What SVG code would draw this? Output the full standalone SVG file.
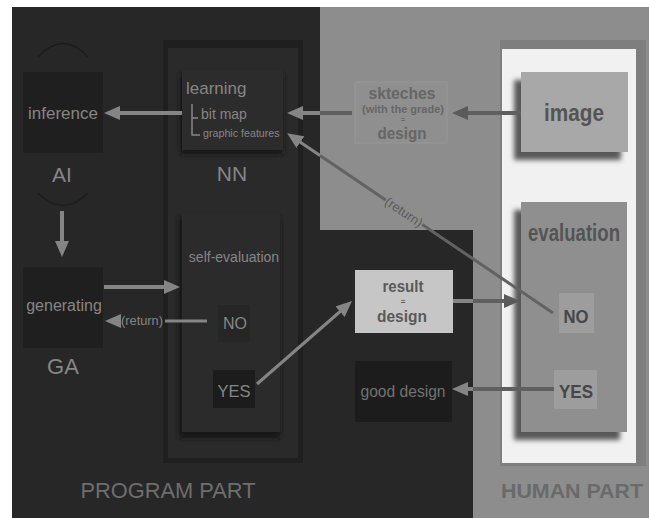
<svg xmlns="http://www.w3.org/2000/svg" width="649" height="518" viewBox="0 0 649 518">
  <defs>
    <style>
      text { font-family: "Liberation Sans", Arial, sans-serif; }
      .lt { fill: #868686; }
      .dk { fill: #545454; font-weight: bold; }
      .mid { text-anchor: middle; }
      .ln-l { stroke: #858585; stroke-width: 4; fill: none; }
      .ln-d { stroke: #5f5f5f; stroke-width: 4; fill: none; }
      .ret-l { stroke: #858585; stroke-width: 3; fill: none; }
      .ret-d { stroke: #626262; stroke-width: 3; fill: none; }
      .shd { fill: #141414; filter: url(#blur); }
      .shg { fill: #585858; filter: url(#blur); }
    </style>
    <filter id="blur" x="-30%" y="-30%" width="160%" height="160%">
      <feGaussianBlur stdDeviation="2.5"/>
    </filter>
    <marker id="ah-l" markerUnits="userSpaceOnUse" viewBox="0 0 16 14" markerWidth="16" markerHeight="14" refX="4" refY="7" orient="auto">
      <path d="M0,0 L16,7 L0,14 Z" fill="#858585"/>
    </marker>
    <marker id="ah-d" markerUnits="userSpaceOnUse" viewBox="0 0 16 14" markerWidth="16" markerHeight="14" refX="4" refY="7" orient="auto">
      <path d="M0,0 L16,7 L0,14 Z" fill="#5a5a5a"/>
    </marker>
  </defs>

  <!-- sheet and the two working areas -->
  <rect x="0" y="0" width="649" height="518" fill="#ffffff"/>
  <rect x="12" y="7" width="637" height="511" fill="#272727"/>
  <path d="M320,7 H649 V518 H473 V230 H320 Z" fill="#8d8d8d"/>

  <!-- human side: framed white panel -->
  <g id="human-panel">
    <rect x="500" y="40" width="146" height="426" fill="#7e7e7e"/>
    <rect x="502" y="49" width="134" height="414" fill="#f1f1f1"/>
  </g>

  <!-- program side: NN column -->
  <g id="nn-panel">
    <rect x="163" y="40" width="140" height="423" fill="#1f1f1f"/>
    <rect x="168" y="48" width="130" height="410" fill="#2a2a2a"/>
    <text class="lt mid" x="232" y="181" font-size="21">NN</text>
  </g>

  <g id="ai">
    <path d="M38,57 Q63,30 88,57" stroke="#1c1c1c" stroke-width="1.5" fill="none"/>
    <path d="M38,193 Q63,218 88,193" stroke="#1c1c1c" stroke-width="1.5" fill="none"/>
    <rect x="23" y="72" width="80" height="81" fill="#1f1f1f"/>
    <text class="lt mid" x="63" y="119" font-size="17" fill="#8c8c8c">inference</text>
    <text class="lt mid" x="62" y="182" font-size="21">AI</text>
  </g>

  <g id="ga">
    <rect x="23" y="267" width="80" height="81" fill="#1f1f1f"/>
    <text class="lt mid" x="64" y="311" font-size="16">generating</text>
    <text class="lt mid" x="63" y="374" font-size="22">GA</text>
  </g>

  <g id="learning">
    <rect class="shd" x="180" y="74" width="103" height="80"/>
    <rect x="182" y="70" width="101" height="80" fill="#2c2c2c"/>
    <text class="lt" x="186" y="94" font-size="17">learning</text>
    <path d="M192,104 V135 H200 M192,118 H198" stroke="#868686" stroke-width="1.5" fill="none"/>
    <text class="lt" x="201" y="119" font-size="14">bit map</text>
    <text class="lt" x="203" y="137" font-size="10.7">graphic features</text>
  </g>

  <g id="self-evaluation">
    <rect class="shd" x="179" y="217" width="101" height="221"/>
    <rect x="182" y="213" width="98" height="219" fill="#2b2b2b"/>
    <text class="lt mid" x="234" y="262" font-size="14">self-evaluation</text>
  </g>

  <g id="self-no">
    <rect x="218" y="305" width="32" height="37" fill="#262626"/>
    <text class="lt mid" x="235" y="329" font-size="16">NO</text>
  </g>

  <g id="self-yes">
    <rect x="213" y="370" width="42" height="38" fill="#1c1c1c"/>
    <text class="lt mid" x="234" y="397" font-size="16.5">YES</text>
  </g>

  <g id="result">
    <rect x="355" y="270" width="98" height="63" fill="#c6c6c6"/>
    <text class="mid" x="403" y="292" font-size="16" font-weight="bold" fill="#5a5a5a" textLength="41" lengthAdjust="spacingAndGlyphs">result</text>
    <text class="mid" x="403" y="304" font-size="8" font-weight="bold" fill="#5a5a5a">=</text>
    <text class="mid" x="402" y="322" font-size="16.5" font-weight="bold" fill="#5a5a5a" textLength="50" lengthAdjust="spacingAndGlyphs">design</text>
  </g>

  <g id="good-design">
    <rect x="355" y="361" width="97" height="61" fill="#1c1c1c"/>
    <text class="mid" x="403" y="397" font-size="16" fill="#727272" textLength="85" lengthAdjust="spacingAndGlyphs">good design</text>
  </g>

  <g id="sketches">
    <rect x="355" y="82" width="92" height="61" fill="#8f8f8f" stroke="#979797" stroke-width="1"/>
    <text class="mid" x="402" y="98.5" font-size="16" font-weight="bold" fill="#666666" textLength="67" lengthAdjust="spacingAndGlyphs">skteches</text>
    <text class="mid" x="403" y="112.5" font-size="11" font-weight="bold" fill="#666666" textLength="82" lengthAdjust="spacingAndGlyphs">(with the grade)</text>
    <text class="mid" x="403" y="122" font-size="7" font-weight="bold" fill="#666666">=</text>
    <text class="mid" x="402" y="139" font-size="16.5" font-weight="bold" fill="#666666" textLength="49" lengthAdjust="spacingAndGlyphs">design</text>
  </g>

  <g id="image">
    <rect class="shg" x="514" y="80" width="107" height="80"/>
    <rect x="521" y="72" width="107" height="80" fill="#a8a8a8"/>
    <text class="dk mid" x="574" y="121" font-size="24" textLength="60" lengthAdjust="spacingAndGlyphs">image</text>
  </g>

  <g id="evaluation">
    <rect class="shg" x="514" y="210" width="106" height="230"/>
    <rect x="521" y="202" width="106" height="230" fill="#8f8f8f"/>
    <text class="dk mid" x="574" y="241" font-size="23" textLength="92" lengthAdjust="spacingAndGlyphs">evaluation</text>
  </g>

  <g id="human-no">
    <rect x="559" y="293" width="35" height="40" fill="#9d9d9d"/>
    <text class="mid" x="576" y="323" font-size="19" font-weight="bold" fill="#464646" textLength="25" lengthAdjust="spacingAndGlyphs">NO</text>
  </g>

  <g id="human-yes">
    <rect x="554" y="370" width="43" height="39" fill="#9d9d9d"/>
    <text class="mid" x="576" y="398" font-size="19" font-weight="bold" fill="#464646" textLength="34" lengthAdjust="spacingAndGlyphs">YES</text>
  </g>

  <!-- part titles -->
  <text class="mid" x="168" y="498" font-size="22" fill="#6e6e6e" textLength="175" lengthAdjust="spacingAndGlyphs">PROGRAM PART</text>
  <text class="mid" x="572" y="498" font-size="21" font-weight="bold" fill="#6a6a6a" textLength="142" lengthAdjust="spacingAndGlyphs">HUMAN PART</text>

  <!-- connectors -->
  <g id="connectors">
    <path class="ln-l" d="M182,113 H116" marker-end="url(#ah-l)"/>
    <path class="ln-l" d="M62,211 V245" marker-end="url(#ah-l)"/>
    <path class="ln-l" d="M104,287 H168" marker-end="url(#ah-l)"/>
    <path class="ret-l" d="M207,321 H165"/>
    <path class="ret-l" d="M121,321 H117" marker-end="url(#ah-l)"/>
    <text class="lt mid" x="142" y="325" font-size="12.8">(return)</text>
    <path class="ret-l" d="M257,384 L343,309" marker-end="url(#ah-l)"/>
    <path class="ln-d" d="M352,113 H320"/>
    <path class="ln-l" d="M320,113 H299" marker-end="url(#ah-l)"/>
    <path class="ln-d" d="M521,113 H464" marker-end="url(#ah-d)"/>
    <path class="ret-d" d="M553,313 L422.2,224.5"/>
    <path class="ret-d" d="M385.7,199.9 L320,155.4"/>
    <path class="ret-l" d="M320,155.4 L297.1,139.9" marker-end="url(#ah-l)"/>
    <text x="404" y="216.5" font-size="13" fill="#5a5a5a" text-anchor="middle" transform="rotate(34.1 404 212)">(return)</text>
    <path class="ln-l" d="M453,301 H473" stroke="#7a7a7a"/>
    <path class="ln-d" d="M473,301 H508" marker-end="url(#ah-d)"/>
    <path class="ln-d" d="M554,389 H473"/>
    <path class="ln-l" d="M473,389 H464" marker-end="url(#ah-l)"/>
  </g>
</svg>
